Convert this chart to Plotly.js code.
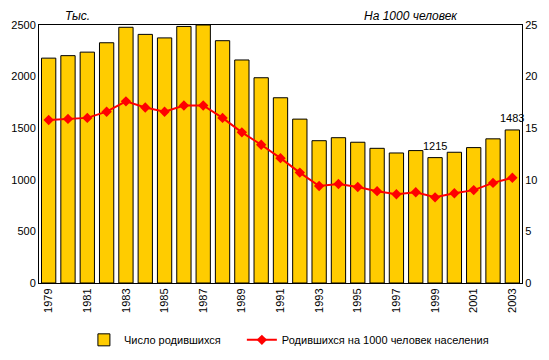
<!DOCTYPE html>
<html><head><meta charset="utf-8">
<script src="https://cdn.plot.ly/plotly-3.0.1.min.js"></script>
<style>body{margin:0;background:#fff}#chart{width:549px;height:360px}</style>
</head><body><div id="chart"></div>
<script>
var years = [1979,1980,1981,1982,1983,1984,1985,1986,1987,1988,1989,1990,1991,1992,1993,1994,1995,1996,1997,1998,1999,2000,2001,2002,2003];
var births = [2179,2203,2237,2328,2478,2409,2375,2486,2500,2348,2161,1989,1795,1588,1379,1408,1364,1305,1260,1283,1215,1267,1312,1397,1483];
var rate = [15.8,15.9,16.0,16.6,17.6,17.0,16.6,17.2,17.2,16.0,14.6,13.4,12.1,10.7,9.4,9.6,9.3,8.9,8.6,8.8,8.3,8.7,9.0,9.7,10.2];
var tickYears = [1979,1981,1983,1985,1987,1989,1991,1993,1995,1997,1999,2001,2003];
var labelYears = [1999,2003];

var font = {family:"Liberation Sans, Arial, sans-serif", size:11, color:"#000"};
var titleFont = {family:"Liberation Sans, Arial, sans-serif", size:12, color:"#000"};
var traces = [
  {type:"bar", x:years, y:births, name:"Число родившихся", width:0.74, legend:"legend",
   marker:{color:"#FFCC00", line:{color:"#000", width:1}}},
  {type:"scatter", mode:"lines+markers", x:years, y:rate, yaxis:"y2", legend:"legend2",
   name:"Родившихся на 1000 человек населения",
   line:{color:"#FF0000", width:2},
   marker:{symbol:"diamond", size:8, color:"#FF0000"}}
];
var ann = labelYears.map(function(yr){
  var i = years.indexOf(yr);
  return {x:yr, y:births[i], xref:"x", yref:"y", text:String(births[i]),
          showarrow:false, xanchor:"center", yanchor:"bottom", yshift:4, font:font};
});
ann.push({xref:"paper", yref:"paper", x:0.079, y:1.0, xanchor:"center", yanchor:"bottom", showarrow:false,
          text:"<i>Тыс.</i>", font:titleFont});
ann.push({xref:"paper", yref:"paper", x:0.77, y:1.0, xanchor:"center", yanchor:"bottom", showarrow:false,
          text:"<i>На 1000 человек</i>", font:titleFont});
var layout = {
  width:549, height:360,
  margin:{l:39, r:27, t:25, b:77, autoexpand:false},
  paper_bgcolor:"#fff", plot_bgcolor:"#fff",
  font:font, showlegend:true,
  xaxis:{range:[1978.5,2003.5], tickvals:tickYears, tickangle:-90, tickformat:"d",
         showline:true, linecolor:"#000", linewidth:1, mirror:true, ticks:"", showgrid:false, zeroline:false},
  yaxis:{range:[0,2500], dtick:500, showline:true, linecolor:"#000", linewidth:1,
         ticks:"", showgrid:false, zeroline:false},
  yaxis2:{overlaying:"y", side:"right", range:[0,25], dtick:5, showline:true,
          linecolor:"#000", linewidth:1, ticks:"", showgrid:false, zeroline:false},
  legend:{x:0.093, xanchor:"left", yref:"container", y:0.056, yanchor:"middle",
          font:font, bgcolor:"rgba(0,0,0,0)"},
  legend2:{x:0.42, xanchor:"left", yref:"container", y:0.056, yanchor:"middle",
          font:font, bgcolor:"rgba(0,0,0,0)"},
  annotations:ann
};
Plotly.newPlot("chart", traces, layout, {displayModeBar:false, staticPlot:true});
</script></body></html>
